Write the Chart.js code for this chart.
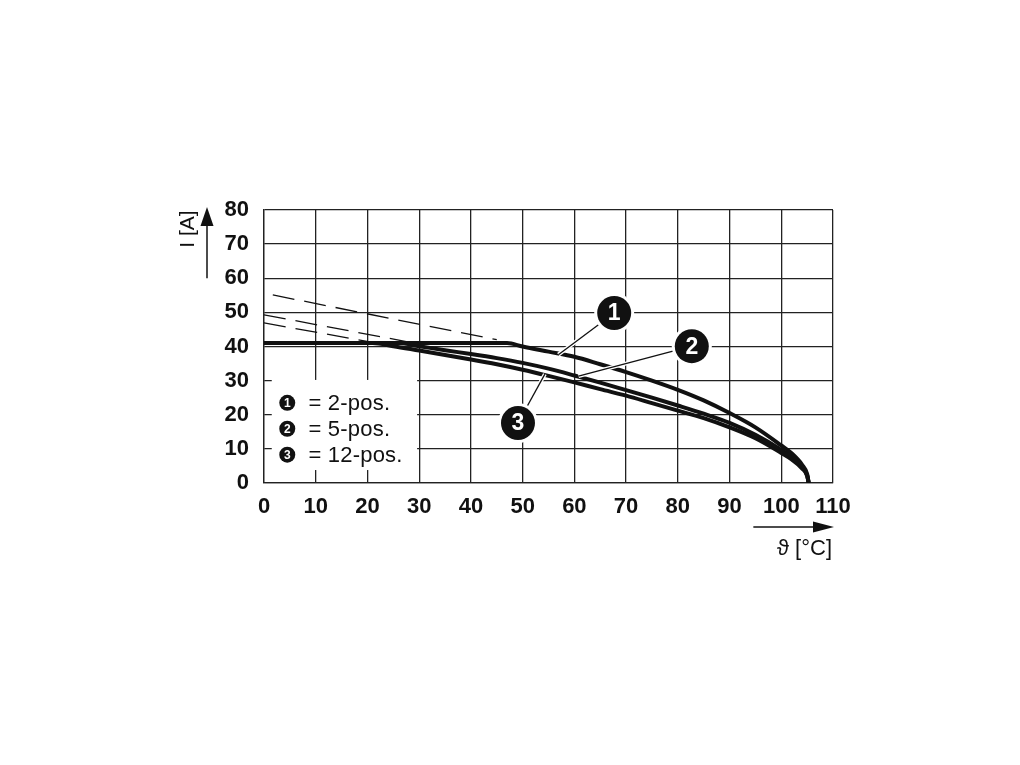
<!DOCTYPE html>
<html>
<head>
<meta charset="utf-8">
<script src="https://cdn.jsdelivr.net/npm/chart.js@4.4.1/dist/chart.umd.min.js"></script>
<style>
  html, body { margin: 0; padding: 0; background: #fff; }
  canvas { display: block; }
</style>
</head>
<body>
<canvas id="derating" width="1020" height="765"></canvas>
<script>
// derating curves, temperature in degC / current in A
const curve1T = [0, 47, 50, 55, 60, 65, 70, 75, 80, 85, 90, 95, 100, 102, 104, 105, 105.3];
const curve1I = [41, 41, 40, 38.5, 37, 34.8, 32.5, 30, 27.3, 24.2, 20.5, 16.3, 11, 8.7, 5.4, 2.6, 0];

const curve2T = [0, 26, 30, 35, 40, 45, 50, 55, 60, 65, 70, 75, 80, 85, 90, 95, 100, 102, 104, 105, 105.3];
const curve2I = [41, 41, 40.1, 38.9, 37.8, 36.6, 35.2, 33.5, 31.5, 29.4, 27.2, 25, 22.7, 20.3, 17.6, 14.1, 9.7, 7.6, 4.8, 2.3, 0];

const curve3T = [0, 21, 25, 30, 35, 40, 45, 50, 55, 60, 65, 70, 75, 80, 85, 90, 95, 100, 102, 104, 105, 105.3];
const curve3I = [41, 41, 40.1, 38.8, 37.5, 36.2, 34.8, 33.2, 31.4, 29.5, 27.5, 25.6, 23.4, 21.2, 19, 16.3, 13.1, 8.8, 6.9, 4.3, 2.1, 0];

// dashed extensions (start / end of each)
const dash1T = [1.7, 45];
const dash1I = [55.1, 42];
const dash2T = [0, 28];
const dash2I = [49.3, 41.3];
const dash3T = [0, 21];
const dash3I = [46.9, 41.2];

const xTicks = [0, 10, 20, 30, 40, 50, 60, 70, 80, 90, 100, 110];
const yTicks = [0, 10, 20, 30, 40, 50, 60, 70, 80];

const legendNums = ['1', '2', '3'];
const legendTexts = ['= 2-pos.', '= 5-pos.', '= 12-pos.'];

// numbered callouts: bubble position and where the leader touches the curve
const calloutNums = ['1', '2', '3'];
const calloutT = [67.7, 82.7, 49.1];
const calloutI = [49.8, 40.1, 17.6];
const leaderT = [56.9, 60.8, 54.3];
const leaderI = [37.6, 31.3, 31.9];

const FONT = '"Liberation Sans", Arial, Helvetica, sans-serif';

function pts(xs, ys) {
  return xs.map((v, i) => ({ x: v, y: ys[i] }));
}

const solid = { borderColor: '#111', borderWidth: 4, pointRadius: 0, fill: false, cubicInterpolationMode: 'monotone' };
const dashed = { borderColor: '#111', borderWidth: 1.3, borderDash: [22, 10], pointRadius: 0, fill: false };

function bubble(ctx, cx, cy, r, txt, size) {
  ctx.beginPath();
  ctx.arc(cx, cy, r + 3, 0, Math.PI * 2);
  ctx.fillStyle = '#fff';
  ctx.fill();
  ctx.beginPath();
  ctx.arc(cx, cy, r, 0, Math.PI * 2);
  ctx.fillStyle = '#111';
  ctx.fill();
  ctx.fillStyle = '#fff';
  ctx.font = size + 'px ' + FONT;
  ctx.textAlign = 'center';
  ctx.textBaseline = 'middle';
  ctx.fillText(txt, cx, cy + 1);
}

const decorations = {
  id: 'decorations',
  afterDraw(chart) {
    const { ctx, chartArea: area, scales: { x, y } } = chart;
    ctx.save();

    // legend box
    const bx0 = x.getPixelForValue(1.5), bx1 = x.getPixelForValue(29.6);
    const by0 = y.getPixelForValue(30.2), by1 = y.getPixelForValue(3.8);
    ctx.fillStyle = '#fff';
    ctx.fillRect(bx0, by0, bx1 - bx0, by1 - by0);
    const rowsI = [23.5, 15.9, 8.3];
    legendNums.forEach((n, i) => {
      const cy = y.getPixelForValue(rowsI[i]);
      const cx = x.getPixelForValue(4.5);
      ctx.beginPath();
      ctx.arc(cx, cy, 8, 0, Math.PI * 2);
      ctx.fillStyle = '#111';
      ctx.fill();
      ctx.fillStyle = '#fff';
      ctx.font = 'bold 12px ' + FONT;
      ctx.textAlign = 'center';
      ctx.textBaseline = 'middle';
      ctx.fillText(n, cx, cy + 1);
      ctx.fillStyle = '#111';
      ctx.font = '22px ' + FONT;
      ctx.letterSpacing = '0.2px';
      ctx.textAlign = 'left';
      ctx.fillText(legendTexts[i], x.getPixelForValue(8.6), cy + 1);
      ctx.letterSpacing = '0px';
    });

    // callout leaders and bubbles
    calloutNums.forEach((n, i) => {
      const cx = x.getPixelForValue(calloutT[i]), cy = y.getPixelForValue(calloutI[i]);
      const lx = x.getPixelForValue(leaderT[i]), ly = y.getPixelForValue(leaderI[i]);
      ctx.lineCap = 'butt';
      ctx.beginPath();
      ctx.moveTo(cx, cy);
      ctx.lineTo(lx, ly);
      ctx.strokeStyle = '#fff';
      ctx.lineWidth = 4;
      ctx.stroke();
      ctx.beginPath();
      ctx.moveTo(cx, cy);
      ctx.lineTo(lx, ly);
      ctx.strokeStyle = '#111';
      ctx.lineWidth = 1.3;
      ctx.stroke();
    });
    calloutNums.forEach((n, i) => {
      bubble(ctx, x.getPixelForValue(calloutT[i]), y.getPixelForValue(calloutI[i]), 17, n, 'bold 23');
    });

    // y axis title with arrow
    ctx.fillStyle = '#111';
    ctx.strokeStyle = '#111';
    const ax = area.left - 57;
    ctx.lineWidth = 1.5;
    ctx.beginPath();
    ctx.moveTo(ax, y.getPixelForValue(60));
    ctx.lineTo(ax, area.top + 14);
    ctx.stroke();
    ctx.beginPath();
    ctx.moveTo(ax, area.top - 3);
    ctx.lineTo(ax - 6.5, area.top + 16);
    ctx.lineTo(ax + 6.5, area.top + 16);
    ctx.closePath();
    ctx.fill();
    ctx.save();
    ctx.translate(area.left - 76, area.top + 19);
    ctx.rotate(-Math.PI / 2);
    ctx.font = '21px ' + FONT;
    ctx.textAlign = 'center';
    ctx.textBaseline = 'middle';
    ctx.fillText('I [A]', 0, 0);
    ctx.restore();

    // x axis title with arrow
    const ay = area.bottom + 44;
    ctx.beginPath();
    ctx.moveTo(x.getPixelForValue(94.6), ay);
    ctx.lineTo(area.right - 16, ay);
    ctx.stroke();
    ctx.beginPath();
    ctx.moveTo(area.right + 1, ay);
    ctx.lineTo(area.right - 20, ay - 5.5);
    ctx.lineTo(area.right - 20, ay + 5.5);
    ctx.closePath();
    ctx.fill();
    ctx.font = '22px ' + FONT;
    ctx.textAlign = 'right';
    ctx.textBaseline = 'middle';
    ctx.fillText('\u03D1 [\u00B0C]', area.right - 1, area.bottom + 66);

    ctx.restore();
  }
};

new Chart(document.getElementById('derating'), {
  type: 'line',
  data: {
    datasets: [
      Object.assign({ label: '2-pos.', data: pts(curve1T, curve1I) }, solid),
      Object.assign({ label: '5-pos.', data: pts(curve2T, curve2I) }, solid),
      Object.assign({ label: '12-pos.', data: pts(curve3T, curve3I) }, solid),
      Object.assign({ label: '2-pos. ext', data: pts(dash1T, dash1I) }, dashed),
      Object.assign({ label: '5-pos. ext', data: pts(dash2T, dash2I) }, dashed),
      Object.assign({ label: '12-pos. ext', data: pts(dash3T, dash3I) }, dashed)
    ]
  },
  options: {
    responsive: false,
    animation: false,
    layout: { padding: { left: 0, top: 210, right: 187, bottom: 0 } },
    plugins: { legend: { display: false }, tooltip: { enabled: false } },
    scales: {
      x: {
        type: 'linear',
        min: 0, max: 110,
        afterBuildTicks: (s) => { s.ticks = xTicks.map(v => ({ value: v })); },
        afterFit: (s) => { s.height = 282; },
        grid: { color: '#222', lineWidth: 1.3, drawTicks: false },
        border: { color: '#222', width: 1.3 },
        ticks: { color: '#111', padding: 11, font: { family: FONT, size: 22, weight: 'bold' } }
      },
      y: {
        type: 'linear',
        min: 0, max: 80,
        afterBuildTicks: (s) => { s.ticks = yTicks.map(v => ({ value: v })); },
        afterFit: (s) => { s.width = 264; },
        grid: { color: '#222', lineWidth: 1.3, drawTicks: false },
        border: { color: '#222', width: 1.3 },
        ticks: { color: '#111', padding: 15, font: { family: FONT, size: 22, weight: 'bold' } }
      }
    }
  },
  plugins: [decorations]
});
</script>
</body>
</html>
